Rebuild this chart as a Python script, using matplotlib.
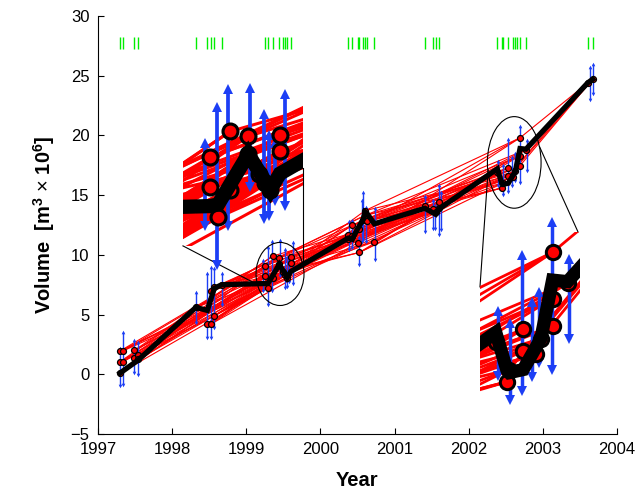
import numpy as np
import matplotlib
matplotlib.use("Agg")
import matplotlib.pyplot as plt
from matplotlib.patches import Ellipse

plt.rcParams['font.family'] = ['Liberation Sans', 'DejaVu Sans']
plt.rcParams['mathtext.fontset'] = 'custom'
plt.rcParams['mathtext.rm'] = 'Liberation Sans'
plt.rcParams['mathtext.bf'] = 'Liberation Sans:bold'

# ---------------- data ----------------
# survey dates (green ticks)
survey_dates = [1997.297, 1997.333, 1997.490, 1997.544,
                1998.320, 1998.474, 1998.520, 1998.569, 1998.668,
                1999.257, 1999.297, 1999.356, 1999.445, 1999.499, 1999.526, 1999.553, 1999.600,
                2000.376, 2000.430, 2000.503, 2000.525, 2000.578, 2000.601, 2000.624, 2000.727,
                2001.410, 2001.523, 2001.555, 2001.600,
                2002.386, 2002.445, 2002.459, 2002.534, 2002.601, 2002.629, 2002.647, 2002.692, 2002.773,
                2003.605, 2003.672]

# individual volume estimates (circles)
obs_t = [1997.297, 1997.297, 1997.297, 1997.333, 1997.333, 1997.490, 1997.490, 1997.544, 1997.544,
         1998.320, 1998.474, 1998.520, 1998.520, 1998.569, 1998.569, 1998.668,
         1999.257, 1999.257, 1999.297, 1999.356, 1999.356, 1999.445, 1999.445, 1999.499, 1999.526,
         1999.553, 1999.600, 1999.600,
         2000.376, 2000.376, 2000.430, 2000.430, 2000.503, 2000.525, 2000.525, 2000.578, 2000.601,
         2000.601, 2000.624, 2000.727,
         2001.410, 2001.523, 2001.555, 2001.600, 2001.600,
         2002.386, 2002.445, 2002.459, 2002.534, 2002.534, 2002.601, 2002.629, 2002.692, 2002.692,
         2002.692, 2002.773,
         2003.605, 2003.672]
obs_v = [1.95, 1.05, 0.10, 1.95, 1.05, 2.00, 1.40, 1.65, 1.25,
         5.60, 4.20, 7.00, 4.20, 7.30, 4.90, 7.50,
         9.10, 8.20, 7.25, 9.90, 8.10, 9.75, 9.20, 8.60, 8.30,
         8.10, 9.80, 9.30,
         11.70, 11.30, 12.50, 11.60, 11.00, 10.20, 12.20, 12.90, 13.70,
         13.30, 12.80, 11.10,
         14.10, 13.80, 13.60, 13.90, 14.40,
         16.90, 15.60, 16.00, 16.60, 17.30, 16.50, 17.00, 19.80, 18.30,
         17.40, 18.80,
         24.40, 24.70]

# uncertainty ranges (blue arrows)
bar_t = [1997.297, 1997.333, 1997.490, 1997.544,
         1998.320, 1998.474, 1998.520, 1998.569, 1998.668,
         1999.232, 1999.290, 1999.347, 1999.453, 1999.520, 1999.544, 1999.576, 1999.626,
         2000.390, 2000.420, 2000.525, 2000.557, 2000.578, 2000.615, 2000.736,
         2001.410, 2001.523, 2001.545, 2001.600, 2001.620,
         2002.400, 2002.465, 2002.530, 2002.580, 2002.620, 2002.690, 2002.780,
         2003.630, 2003.680]
bar_lo = [-1.0, -0.9, 0.1, -0.1,
          4.3, 3.0, 3.0, 3.9, 5.8,
          7.0, 5.8, 7.0, 8.2, 7.2, 7.3, 7.75, 7.6,
          10.4, 10.55, 9.15, 11.1, 11.25, 11.1, 9.6,
          11.95, 12.2, 12.2, 11.7, 12.1,
          15.8, 15.0, 15.3, 15.75, 16.2, 16.0, 17.0,
          22.97, 23.45]
bar_hi = [2.2, 3.5, 2.9, 2.7,
          6.9, 8.5, 9.0, 8.9, 8.5,
          9.55, 10.65, 11.2, 11.25, 10.45, 9.8, 9.55, 11.05,
          12.8, 12.9, 11.5, 14.6, 15.3, 14.0, 13.9,
          14.9, 14.6, 14.2, 15.85, 15.3,
          17.9, 17.5, 19.7, 18.2, 18.5, 20.8, 19.6,
          25.76, 25.96]

# best estimate of volume through time (black line)
est_t = [1997.297, 1997.544, 1998.320, 1998.474, 1998.569, 1998.668,
         1999.257, 1999.297, 1999.445, 1999.553, 1999.600,
         2000.376, 2000.430, 2000.503, 2000.578, 2000.601, 2000.624, 2000.727,
         2001.410, 2001.523, 2001.555, 2001.600,
         2002.386, 2002.445, 2002.459, 2002.534, 2002.629, 2002.692, 2002.773,
         2003.605, 2003.672]
est_v = [0.10, 1.20, 5.60, 5.35, 7.20, 7.50,
         7.60, 7.65, 9.20, 8.10, 8.60,
         11.40, 11.30, 12.20, 13.00, 13.60, 13.50, 12.60,
         13.90, 13.50, 13.40, 13.85,
         17.20, 16.00, 15.90, 16.00, 17.00, 18.90, 18.85,
         24.40, 24.70]

# red lines join estimates of these survey campaigns (campaign = calendar year)
red_links = [(1997, 1999), (1998, 2000), (1999, 2001), (2000, 2002), (2002, 2003)]
pair_step = 4

x_ticks = [1997, 1998, 1999, 2000, 2001, 2002, 2003, 2004]
y_ticks = [-5, 0, 5, 10, 15, 20, 25, 30]

obs_t = np.array(obs_t); obs_v = np.array(obs_v)
bar_t = np.array(bar_t); bar_lo = np.array(bar_lo); bar_hi = np.array(bar_hi)
camp = np.floor(obs_t).astype(int)
pairs = [(i, j) for i in range(len(obs_t)) for j in range(len(obs_t))
         if (camp[i], camp[j]) in red_links and (i + j) % pair_step == 0]

BLUE = '#1c3ef5'
RED = '#ff0000'

W, H = 644, 491
fig = plt.figure(figsize=(W / 100, H / 100), dpi=100)
L, R, T, B = 98, 617, 16, 434
ax = fig.add_axes([L / W, 1 - B / H, (R - L) / W, (B - T) / H])


def draw(a, scale, mscale, xr=None, yr=None):
    for i, j in pairs:
        a.plot([obs_t[i], obs_t[j]], [obs_v[i], obs_v[j]], color=RED,
               lw=0.8 * scale, solid_capstyle='butt', zorder=1)
    so = np.ones(len(obs_t), bool)
    sb = np.ones(len(bar_t), bool)
    clip = xr is None
    if not clip:
        so = (obs_t >= xr[0]) & (obs_t <= xr[1]) & (obs_v >= yr[0]) & (obs_v <= yr[1])
        sb = (bar_t >= xr[0]) & (bar_t <= xr[1]) & (bar_hi >= yr[0]) & (bar_lo <= yr[1])
    t, lo, hi = bar_t[sb], bar_lo[sb], bar_hi[sb]
    a.vlines(t, lo, hi, color=BLUE, lw=1.0 * scale, zorder=2, clip_on=clip)
    a.plot(t, hi, '^', color=BLUE, ms=2.6 * scale, mew=0, zorder=2, clip_on=clip)
    a.plot(t, lo, 'v', color=BLUE, ms=2.6 * scale, mew=0, zorder=2, clip_on=clip)
    a.plot(obs_t[so], obs_v[so], 'o', mfc=RED, mec='k', ms=4.3 * mscale,
           mew=0.9 * mscale, zorder=3, clip_on=clip)
    a.plot(est_t, est_v, '-', color='k', lw=3.8 * scale,
           solid_joinstyle='miter', zorder=4)


draw(ax, 1.0, 1.0)
ax.vlines(survey_dates, 27.2, 28.2, color='#00ee00', lw=1.0)

ax.set_xlim(1997, 2004)
ax.set_ylim(-5, 30)
ax.set_xticks(x_ticks)
ax.set_yticks(y_ticks)
ax.tick_params(direction='in', labelsize=12, length=4, pad=6, top=False, right=False)
ax.spines['top'].set_visible(False)
ax.spines['right'].set_visible(False)
ax.set_xlabel('Year', fontsize=14.5, fontweight='bold', labelpad=10)
ax.set_ylabel(r'Volume  [m$^{\mathbf{3}}$ $\times$ 10$^{\mathbf{6}}$]',
              fontsize=14.5, fontweight='bold', labelpad=10)

# ellipses marking the magnified regions
ax.add_patch(Ellipse((1999.455, 8.40), 0.647, 5.28, fill=False, lw=0.8, ec='k', zorder=5))
ax.add_patch(Ellipse((2002.614, 17.74), 0.724, 7.67, fill=False, lw=0.8, ec='k', zorder=5))
# connector lines
ax.plot([1998.146, 1999.160], [10.75, 7.48], color='k', lw=0.8, zorder=5)
ax.plot([1999.765, 1999.765], [17.28, 8.9], color='k', lw=0.8, zorder=5)
ax.plot([2002.262, 2002.152], [17.12, 7.32], color='k', lw=0.8, zorder=5)
ax.plot([2002.955, 2003.474], [19.06, 11.92], color='k', lw=0.8, zorder=5)

# magnified insets
x1, y1 = (1999.125, 1999.713), (6.37, 11.33)
in1 = fig.add_axes([183 / W, 1 - 246 / H, 120 / W, 161 / H])
draw(in1, 2.7, 2.5, x1, y1)
in1.set_xlim(*x1)
in1.set_ylim(*y1)
in1.axis('off')
in1.patch.set_alpha(0)

x2, y2 = (2002.301, 2002.840), (14.85, 20.46)
in2 = fig.add_axes([480 / W, 1 - 405 / H, 100 / W, 173 / H])
draw(in2, 2.5, 2.4, x2, y2)
in2.set_xlim(*x2)
in2.set_ylim(*y2)
in2.axis('off')
in2.patch.set_alpha(0)

fig.savefig('out.png', dpi=100)
